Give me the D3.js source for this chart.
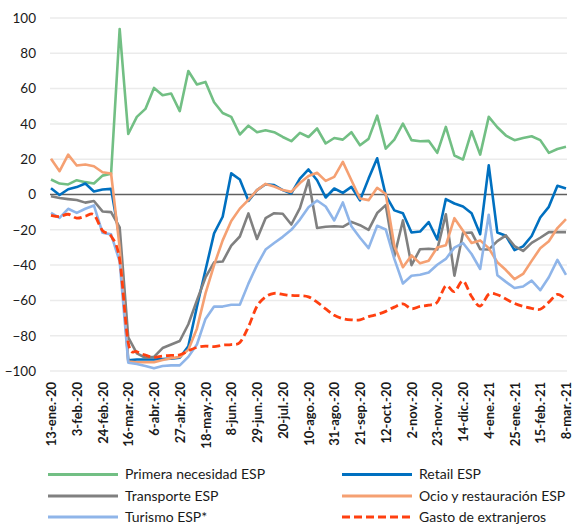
<!DOCTYPE html>
<html>
<head>
<meta charset="utf-8">
<script src="https://cdn.jsdelivr.net/npm/d3@7"></script>
<style>
  html, body { margin: 0; padding: 0; background: #fff; }
  svg { display: block; font-family: Lato, "Noto Sans", sans-serif; }
</style>
</head>
<body>
<script>
const categories = [
  "13-ene.-20","20-ene.-20","27-ene.-20","3-feb.-20","10-feb.-20","17-feb.-20","24-feb.-20","2-mar.-20","9-mar.-20",
  "16-mar.-20","23-mar.-20","30-mar.-20","6-abr.-20","13-abr.-20","20-abr.-20","27-abr.-20","4-may.-20","11-may.-20",
  "18-may.-20","25-may.-20","1-jun.-20","8-jun.-20","15-jun.-20","22-jun.-20","29-jun.-20","6-jul.-20","13-jul.-20",
  "20-jul.-20","27-jul.-20","3-ago.-20","10-ago.-20","17-ago.-20","24-ago.-20","31-ago.-20","7-sep.-20","14-sep.-20",
  "21-sep.-20","28-sep.-20","5-oct.-20","12-oct.-20","19-oct.-20","26-oct.-20","2-nov.-20","9-nov.-20","16-nov.-20",
  "23-nov.-20","30-nov.-20","7-dic.-20","14-dic.-20","21-dic.-20","28-dic.-20","4-ene.-21","11-ene.-21","18-ene.-21",
  "25-ene.-21","1-feb.-21","8-feb.-21","15-feb.-21","22-feb.-21","1-mar.-21","8-mar.-21"
];
const tickLabels = [
  "13-ene.-20","3-feb.-20","24-feb.-20","16-mar.-20","6-abr.-20","27-abr.-20","18-may.-20","8-jun.-20",
  "29-jun.-20","20-jul.-20","10-ago.-20","31-ago.-20","21-sep.-20","12-oct.-20","2-nov.-20","23-nov.-20",
  "14-dic.-20","4-ene.-21","25-ene.-21","15-feb.-21","8-mar.-21"
];
const yTicks = [100, 80, 60, 40, 20, 0, -20, -40, -60, -80, -100];

const primeraNecesidad = [8.5,6.2,5.7,8.1,7,6.2,10.7,11.7,93.8,34.3,44,48.5,60.4,56.2,57.2,47.2,70,62.3,
  63.8,52.3,46.2,44,34,39,35.3,36.4,35.3,32.6,30.2,34.9,32.6,37.4,28.9,32,31.1,35.3,27.9,31.5,
  44.7,26,31.1,40.2,30.8,30.2,30.4,23.6,38.3,22.1,19.8,35.8,22.6,44,38.1,33.4,30.8,32,33,30.8,23.6,25.8,27];
const retail = [3.5,-0.3,3,4.2,6.2,1.7,2.8,3.2,-25,-94,-93.5,-93.5,-93.5,-93.2,-93,-92.5,
  -86,-63.6,-42.8,-22,-12.6,12,8.5,-3.6,2.5,5.8,5.3,2.5,0.6,9,14.2,
  8.1,-1.7,3.4,0.9,4.3,-3.3,9,20.5,-0.5,-9,-10.6,-21.5,-21,-15.6,-25.5,
  -2.6,-5.1,-6.8,-10.6,-22.5,16.5,-21.5,-23.4,-31.5,-29.4,-23.5,-13,-7,4.9,3.4];
const transporte = [-1,-2,-2.6,-3.1,-4.6,-3.7,-9.6,-10,-18.6,-81,-90,-92.5,-92,-87,-85,-83,
  -73.5,-60,-47,-38.4,-38,-29,-23.8,-10.7,-25.2,-13.4,-10.6,-10.9,-17,-7.7,8.2,
  -19,-18.3,-18,-18.3,-15.5,-17.4,-20,-10.5,-6,-35,-14.7,-40,-31,-30.7,-31.2,
  -11.2,-46,-21.8,-21.5,-31,-31.2,-26.4,-23.2,-29.2,-32,-27.4,-24.5,-21.3,-21.3,-21.3];
const ocio = [20.2,13.2,22.6,16.4,17,16,12.6,11.9,-30,-94.7,-95,-95,-95,-93.8,-92.8,-92,
  -88,-76,-56,-40,-26,-15,-8,-3,2.5,6,4.5,2.5,1.5,6.5,10.5,
  12.3,7.7,10,18.5,8.1,-2.3,-3.2,3.8,0.3,-29,-41.2,-34.5,-39,-37.5,-30,
  -28.8,-13.4,-20.5,-27.5,-26,-30.4,-38.4,-42.8,-48,-45,-37.6,-30.5,-26.5,-19,-14];
const turismo = [-10.4,-13.2,-8.1,-10.4,-8.1,-6.2,-21.7,-22.6,-38,-95.3,-96,-97.2,-98.5,-97.2,-96.8,-96.8,
  -92,-85,-70.5,-63.5,-63.5,-62.5,-62.5,-50.5,-40,-31.2,-27.5,-24,-20,-14.2,-7.2,
  -3.4,-6.8,-14.7,-4.5,-18,-24.5,-30.4,-17.7,-19.8,-36.5,-50.4,-46,-45.5,-44.2,-39.8,
  -36.5,-30.1,-27.5,-33.7,-42.2,-11.5,-45.7,-49.5,-53,-52.1,-48.8,-54.2,-46.9,-37,-45.5];
const gastoExtranjeros = [-11.8,-12.5,-11.2,-13.4,-12.3,-11.5,-20.5,-23.6,-37,-84,
  -89,-91,-92.3,-91.5,-91.2,-90.8,-88.6,-86.6,-85.9,-86.2,
  -85.3,-85,-83.8,-75,-63.3,-58,-56,-56.6,-57.2,-57.3,
  -58,-61,-64.8,-68.4,-70.3,-71,-71,-69.2,-68,-66.2,
  -63.8,-62,-64.7,-63.4,-62.7,-61,-51.7,-55,-49,-57.8,
  -63.2,-56.5,-56.8,-59.2,-61.7,-63.4,-64.5,-65,-61,-56.6,-59.6];

const seriesNames = ["Primera necesidad ESP","Retail ESP","Transporte ESP","Ocio y restauración ESP","Turismo ESP*","Gasto de extranjeros"];
const seriesColors = ["#72bf84","#0070c0","#808080","#f5a072","#8fb5e9","#ff4010"];
const seriesData = [primeraNecesidad, retail, transporte, ocio, turismo, gastoExtranjeros];

const W = 573, H = 524;
const svg = d3.select("body").append("svg").attr("width", W).attr("height", H);

const x = d3.scalePoint().domain(categories).range([51, 566]);
const y = d3.scaleLinear().domain([-100, 100]).range([371, 18]);

// gridlines
svg.append("g").selectAll("line").data(yTicks.filter(d => d !== 0)).join("line")
  .attr("x1", 50).attr("x2", 567)
  .attr("y1", d => y(d)).attr("y2", d => y(d))
  .attr("stroke", "#ebebeb").attr("stroke-width", 1.5);

// y axis labels
const yAxis = svg.append("g").attr("transform", "translate(36,0)")
  .call(d3.axisLeft(y).tickValues(yTicks).tickSize(0).tickPadding(0));
yAxis.select(".domain").remove();
yAxis.selectAll("text").attr("font-size", 13.5).attr("fill", "#1a1a1a")
  .style("font-family", "Lato, 'Noto Sans', sans-serif");

// zero line
svg.append("line").attr("x1", 50).attr("x2", 567).attr("y1", y(0)).attr("y2", y(0))
  .attr("stroke", "#5f5f5f").attr("stroke-width", 1.5);

// x axis labels
const xAxis = svg.append("g").attr("transform", "translate(0,382)")
  .call(d3.axisBottom(x).tickValues(tickLabels).tickSize(0).tickPadding(0));
xAxis.select(".domain").remove();
xAxis.selectAll("text")
  .attr("transform", "rotate(-90)")
  .attr("text-anchor", "end")
  .attr("x", 0).attr("y", 0).attr("dy", "0.36em")
  .attr("font-size", 13).attr("font-weight", "bold").attr("fill", "#1a1a1a")
  .style("font-family", "Lato, 'Noto Sans', sans-serif");

// lines
seriesData.forEach((vals, k) => {
  const line = d3.line()
    .x((d, i) => x(categories[i]))
    .y(d => y(d));
  if (k === 5) line.curve(d3.curveCardinal.tension(0));
  svg.append("path").datum(vals)
    .attr("d", line)
    .attr("fill", "none")
    .attr("stroke", seriesColors[k])
    .attr("stroke-width", k === 5 ? 2.8 : 2.6)
    .attr("stroke-linejoin", "round")
    .attr("stroke-dasharray", k === 5 ? "8,4" : null);
});

// legend
const legendPos = [[48, 474.5], [342, 474.5], [48, 496], [342, 496], [48, 517], [342, 517]];
seriesNames.forEach((name, k) => {
  const [lx, ly] = legendPos[k];
  svg.append("line").attr("x1", lx).attr("x2", lx + 70).attr("y1", ly).attr("y2", ly)
    .attr("stroke", seriesColors[k]).attr("stroke-width", 2.8)
    .attr("stroke-dasharray", k === 5 ? "8,4" : null);
  svg.append("text").attr("x", lx + 77).attr("y", ly).attr("dy", "0.35em")
    .attr("font-size", 14).attr("fill", "#1a1a1a").text(name);
});
</script>
</body>
</html>
